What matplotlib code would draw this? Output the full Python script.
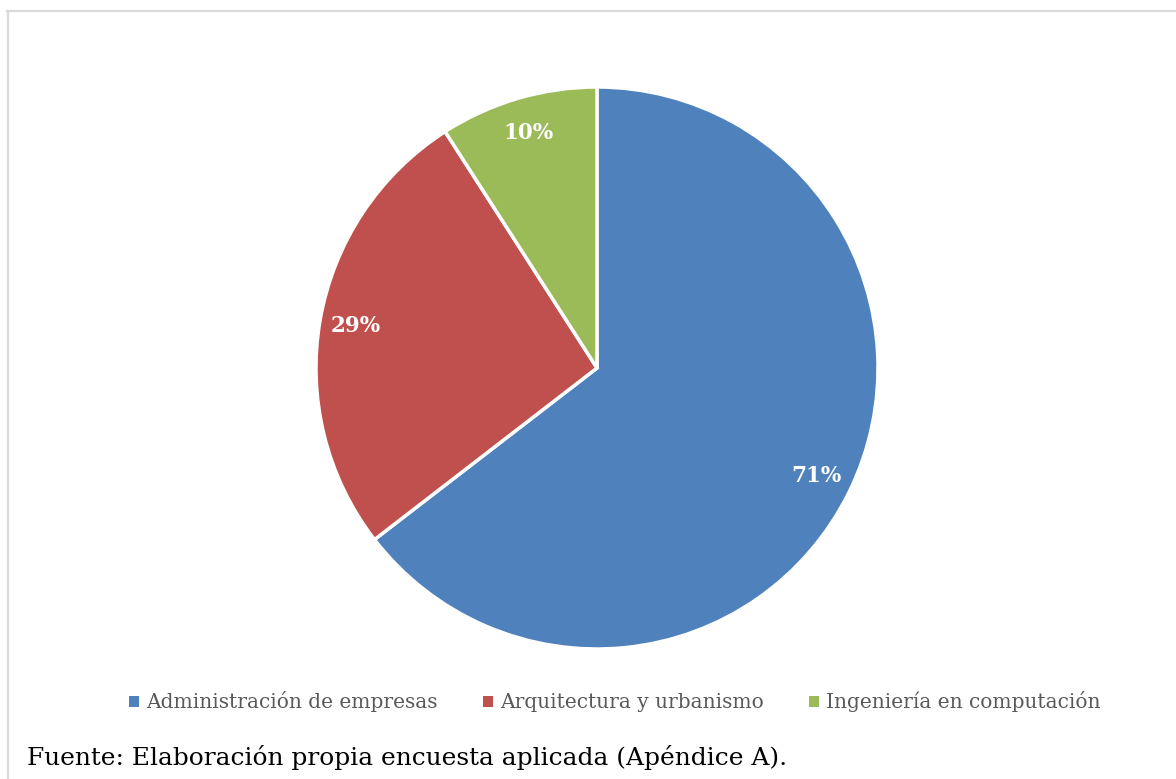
import matplotlib
matplotlib.use("Agg")
import matplotlib.pyplot as plt
from matplotlib.lines import Line2D
from matplotlib.patches import Patch

categories = ["Administración de empresas", "Arquitectura y urbanismo", "Ingeniería en computación"]
values = [71, 29, 10]
colors = ["#4F81BD", "#C0504D", "#9BBB59"]
caption = "Fuente: Elaboración propia encuesta aplicada (Apéndice A)."

W, H = 1176, 779
fig = plt.figure(figsize=(W / 100, H / 100), dpi=100)
fig.patch.set_facecolor("white")

serif = ["DejaVu Serif", "Liberation Serif"]

# pie area: centre (597, 368), radius 281 px
cx, cy, r = 597, 368, 281
ax = fig.add_axes([(cx - r) / W, (H - cy - r) / H, 2 * r / W, 2 * r / H])
labels_iter = iter(values)
wedges, texts, autotexts = ax.pie(
    values,
    colors=colors,
    startangle=90,
    counterclock=False,
    radius=1.0,
    autopct=lambda p: f"{next(labels_iter)}%",
    pctdistance=0.87,
    wedgeprops=dict(edgecolor="white", linewidth=2.5),
    textprops=dict(color="white", fontweight="bold", fontsize=15.5, family=serif),
)
ax.set_xlim(-1, 1)
ax.set_ylim(-1, 1)
ax.set_aspect("equal")
ax.axis("off")

# legend
handles = [Patch(facecolor=c, edgecolor="none") for c in colors]
fig.legend(
    handles, categories,
    loc="center", bbox_to_anchor=(615 / W, 1 - 702 / H),
    ncol=3, frameon=False,
    handlelength=0.5, handleheight=0.5, handletextpad=0.35, columnspacing=2.25,
    prop=dict(family=serif, size=14.5),
    labelcolor="#595959",
)

# chart frame (top and left edges)
fig.add_artist(Line2D([7 / W, 1.0], [1 - 11 / H, 1 - 11 / H], color="#D9D9D9", linewidth=1.6,
                      transform=fig.transFigure))
fig.add_artist(Line2D([8 / W, 8 / W], [0.0, 1 - 11 / H], color="#D9D9D9", linewidth=1.6,
                      transform=fig.transFigure))

fig.text(27 / W, 1 - 758 / H, caption, family=serif, size=17.9, color="black", va="center", ha="left")

fig.savefig("out.png", dpi=100)
